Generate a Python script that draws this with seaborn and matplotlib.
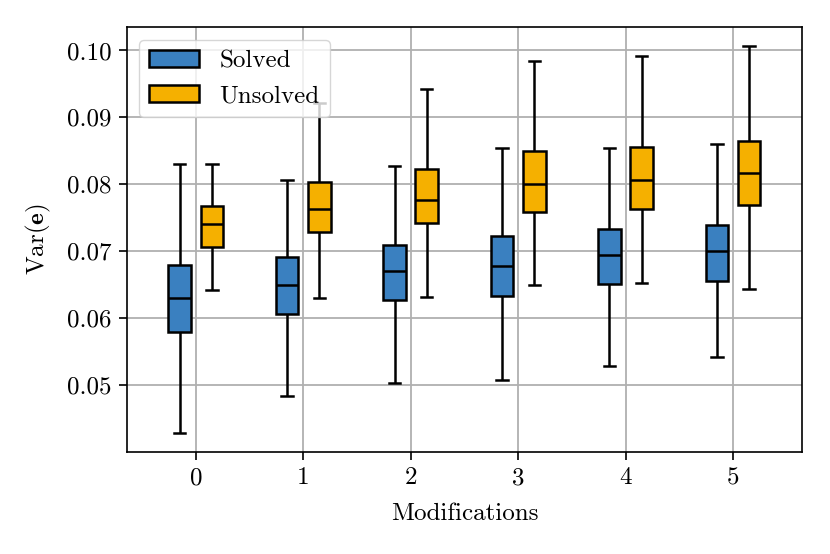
import numpy as np
import pandas as pd
import matplotlib
matplotlib.use("Agg")
import matplotlib.pyplot as plt
import seaborn as sns

# five-number summaries (low whisker, q1, median, q3, high whisker)
modifications = [0, 1, 2, 3, 4, 5]
solved_low = [0.0429, 0.0484, 0.0503, 0.0508, 0.0528, 0.0542]
solved_q1 = [0.0579, 0.0607, 0.0627, 0.0633, 0.0651, 0.0656]
solved_med = [0.0631, 0.0649, 0.0671, 0.0678, 0.0695, 0.0701]
solved_q3 = [0.0679, 0.0691, 0.0709, 0.0723, 0.0734, 0.0739]
solved_high = [0.0830, 0.0807, 0.0827, 0.0854, 0.0854, 0.0861]

unsolved_low = [0.0642, 0.0630, 0.0632, 0.0649, 0.0653, 0.0643]
unsolved_q1 = [0.0706, 0.0729, 0.0743, 0.0759, 0.0763, 0.0769]
unsolved_med = [0.0741, 0.0763, 0.0777, 0.0800, 0.0806, 0.0817]
unsolved_q3 = [0.0767, 0.0804, 0.0823, 0.0850, 0.0856, 0.0865]
unsolved_high = [0.0830, 0.0921, 0.0942, 0.0984, 0.0992, 0.1006]

rows = []
for i, m in enumerate(modifications):
    for status, parts in [("Solved", (solved_low, solved_q1, solved_med, solved_q3, solved_high)),
                          ("Unsolved", (unsolved_low, unsolved_q1, unsolved_med, unsolved_q3, unsolved_high))]:
        for p in parts:
            rows.append({"Modifications": m, "Status": status, "Var": p[i]})
df = pd.DataFrame(rows)

plt.rcParams["font.family"] = "serif"
plt.rcParams["font.serif"] = ["cmr10"]
plt.rcParams["mathtext.fontset"] = "cm"
plt.rcParams["axes.formatter.use_mathtext"] = True
plt.rcParams["font.size"] = 18
plt.rcParams["axes.linewidth"] = 1.2
for a in ("xtick", "ytick"):
    plt.rcParams[f"{a}.major.size"] = 6
    plt.rcParams[f"{a}.major.width"] = 1.2
    plt.rcParams[f"{a}.major.pad"] = 5

fig, ax = plt.subplots(figsize=(8.3, 5.54), dpi=100)
fig.subplots_adjust(left=0.153, right=0.966, top=0.951, bottom=0.184)

sns.boxplot(data=df, x="Modifications", y="Var", hue="Status",
            hue_order=["Solved", "Unsolved"],
            palette=["#3a80c0", "#f5b000"], saturation=1,
            width=0.6, gap=0.3, whis=(0, 100), linecolor="black",
            linewidth=1.8, ax=ax, zorder=3)

ax.grid(True, color="#b0b0b0", linewidth=1.3, zorder=0)
ax.set_axisbelow(True)
ax.set_xlim(-0.64, 5.64)
ax.set_xlabel("Modifications", labelpad=10)
ax.set_ylabel(r"Var($\mathbf{e}$)")
ax.yaxis.set_label_coords(-0.11, 0.5)
ax.set_yticks([0.05, 0.06, 0.07, 0.08, 0.09, 0.10])
ax.set_yticklabels(["0.05", "0.06", "0.07", "0.08", "0.09", "0.10"])
ax.legend(loc="upper left", title=None, handlelength=2.0, borderpad=0.4)

fig.savefig("out.png", dpi=100)
